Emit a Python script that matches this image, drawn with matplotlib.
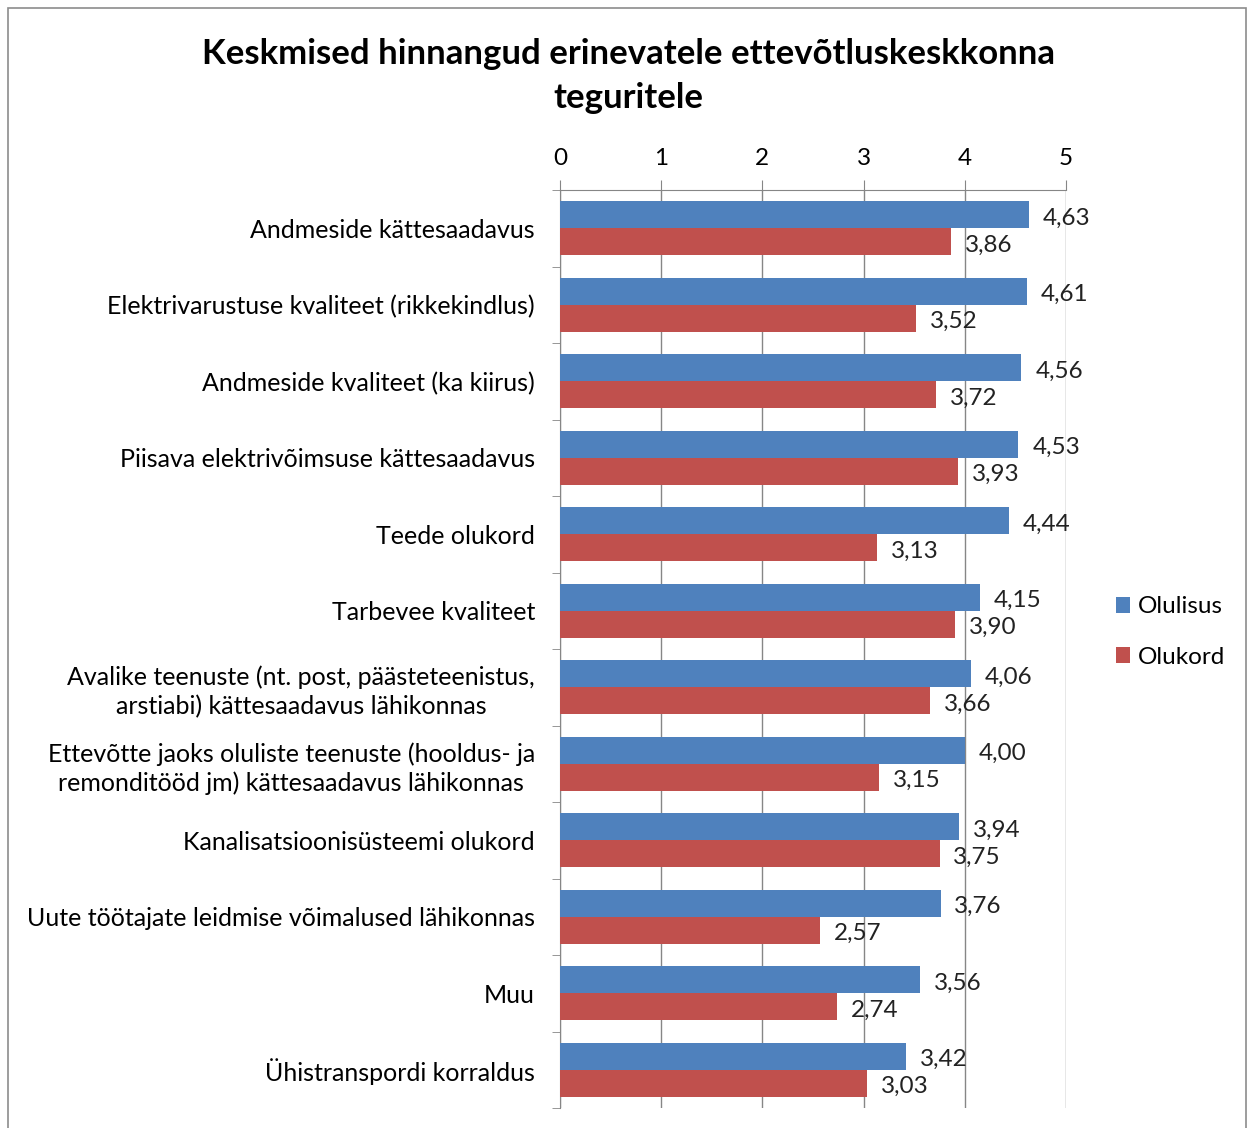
import numpy as np
import matplotlib
matplotlib.use('AGG')
import matplotlib.pyplot as plt
from matplotlib.patches import Rectangle

categories = [
    "Andmeside kättesaadavus",
    "Elektrivarustuse kvaliteet (rikkekindlus)",
    "Andmeside kvaliteet (ka kiirus)",
    "Piisava elektrivõimsuse kättesaadavus",
    "Teede olukord",
    "Tarbevee kvaliteet",
    "Avalike teenuste (nt. post, päästeteenistus,\narstiabi) kättesaadavus lähikonnas",
    "Ettevõtte jaoks oluliste teenuste (hooldus- ja\nremonditööd jm) kättesaadavus lähikonnas",
    "Kanalisatsioonisüsteemi olukord",
    "Uute töötajate leidmise võimalused lähikonnas",
    "Muu",
    "Ühistranspordi korraldus",
]
olulisus = [4.63, 4.61, 4.56, 4.53, 4.44, 4.15, 4.06, 4.00, 3.94, 3.76, 3.56, 3.42]
olukord = [3.86, 3.52, 3.72, 3.93, 3.13, 3.90, 3.66, 3.15, 3.75, 2.57, 2.74, 3.03]
xticks = [0, 1, 2, 3, 4, 5]

title = "Keskmised hinnangud erinevatele ettevõtluskeskkonna\nteguritele"

plt.rcParams['font.family'] = ['Lato', 'DejaVu Sans']

BLUE = '#4F81BD'
RED = '#C0504D'
GRID = '#868686'

fig = plt.figure(figsize=(12.48, 11.28), dpi=100)
ax = fig.add_axes([560 / 1248, 1 - 1108 / 1128, 506 / 1248, (1108 - 190) / 1128])

y = np.arange(len(categories))
h = 0.35
ax.barh(y - h / 2, olulisus, height=h, color=BLUE, label='Olulisus', zorder=3)
ax.barh(y + h / 2, olukord, height=h, color=RED, label='Olukord', zorder=3)

def fmt(v):
    return f"{v:.2f}".replace('.', ',')

for i in range(len(categories)):
    ax.annotate(fmt(olulisus[i]), (olulisus[i], y[i] - h / 2), xytext=(10, -2.5),
                textcoords='offset points', va='center', ha='left', fontsize=17.5, color='#222222')
    ax.annotate(fmt(olukord[i]), (olukord[i], y[i] + h / 2), xytext=(10, -2.5),
                textcoords='offset points', va='center', ha='left', fontsize=17.5, color='#222222')

ax.set_xlim(0, 5)
ax.set_ylim(len(categories) - 0.5, -0.5)
ax.xaxis.tick_top()
ax.set_xticks(xticks)
ax.set_xticklabels([str(t) for t in xticks])
ax.tick_params(axis='x', length=7, color=GRID, labelsize=17.5, pad=8)
ax.xaxis.grid(True, color=GRID, linewidth=1, zorder=0)

ax.set_yticks(y)
ax.set_yticklabels(categories)
ax.tick_params(axis='y', length=0, labelsize=18, pad=18)
for lbl in ax.get_yticklabels():
    lbl.set_multialignment('center')
    lbl.set_linespacing(1.3)
ax.set_yticks(np.arange(len(categories) + 1) - 0.5, minor=True)
ax.tick_params(axis='y', which='minor', length=6, color=GRID)

for s in ['right', 'bottom']:
    ax.spines[s].set_visible(False)
ax.spines['top'].set_color(GRID)
ax.spines['left'].set_color(GRID)

fig.text(628 / 1248, 1 - 76 / 1128, title, ha='center', va='center', fontsize=25,
         fontweight='bold', linespacing=1.43)

leg = fig.legend(loc='center left', bbox_to_anchor=(1094 / 1248, 1 - 632 / 1128), frameon=False,
                 fontsize=17.5, handlelength=0.6, handleheight=0.6, handletextpad=0.3,
                 labelspacing=1.2)

fig.patches.append(Rectangle((8 / 1248, -0.01), 1238 / 1248, 1 - 8 / 1128 + 0.01,
                             transform=fig.transFigure, fill=False, edgecolor='#8c8c8c',
                             linewidth=1.2))

plt.savefig("out.png", dpi=100)
